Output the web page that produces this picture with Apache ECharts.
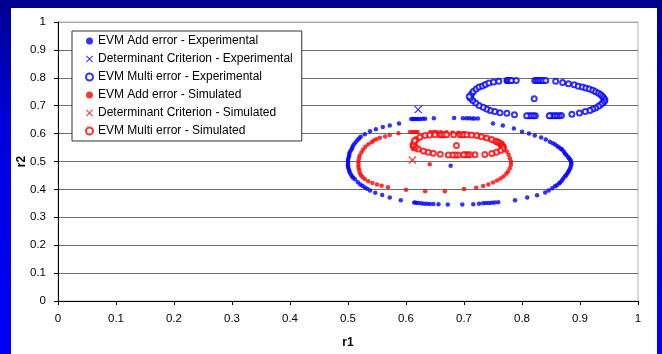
<!DOCTYPE html>
<html>
<head>
<meta charset="utf-8">
<script src="https://cdn.jsdelivr.net/npm/echarts@6/dist/echarts.min.js"></script>
<style>
  html, body { margin: 0; padding: 0; }
  #chart { width: 662px; height: 354px; }
</style>
</head>
<body>
<div id="chart"></div>
<script>
// Axis ticks (r1 horizontal, r2 vertical)
const r1Ticks = [0, 0.1, 0.2, 0.3, 0.4, 0.5, 0.6, 0.7, 0.8, 0.9, 1];
const r2Ticks = [0, 0.1, 0.2, 0.3, 0.4, 0.5, 0.6, 0.7, 0.8, 0.9, 1];

const seriesNames = [
  'EVM Add error - Experimental',
  'Determinant Criterion - Experimental',
  'EVM Multi error - Experimental',
  'EVM Add error - Simulated',
  'Determinant Criterion - Simulated',
  'EVM Multi error - Simulated'
];

// EVM additive-error confidence region, experimental [r1, r2]
const evmAddExp = [
  [0.609,0.652],[0.612,0.652],[0.615,0.652],[0.618,0.652],[0.621,0.652],[0.625,0.652],[0.629,0.653],[0.633,0.653],
  [0.648,0.655],[0.683,0.656],[0.698,0.655],[0.704,0.655],[0.709,0.655],[0.714,0.654],[0.718,0.654],[0.724,0.654],
  [0.750,0.636],[0.767,0.629],[0.786,0.618],[0.800,0.607],[0.812,0.600],[0.822,0.593],[0.833,0.586],[0.841,0.579],
  [0.848,0.571],[0.853,0.565],[0.857,0.561],[0.861,0.555],[0.864,0.550],[0.867,0.546],[0.869,0.543],[0.872,0.536],
  [0.874,0.529],[0.876,0.524],[0.879,0.518],[0.881,0.512],[0.883,0.507],[0.884,0.502],[0.885,0.496],[0.885,0.490],
  [0.884,0.482],[0.883,0.475],[0.881,0.468],[0.880,0.463],[0.878,0.457],[0.876,0.451],[0.874,0.446],[0.871,0.439],
  [0.869,0.432],[0.866,0.426],[0.864,0.421],[0.860,0.415],[0.857,0.411],[0.852,0.404],[0.846,0.396],[0.840,0.389],
  [0.826,0.379],[0.809,0.371],[0.788,0.361],
  [0.759,0.354],[0.753,0.353],[0.748,0.352],[0.743,0.351],[0.738,0.351],[0.733,0.350],[0.726,0.349],[0.716,0.347],
  [0.697,0.346],[0.672,0.346],[0.656,0.347],[0.647,0.348],[0.641,0.348],[0.636,0.349],[0.631,0.349],[0.626,0.350],
  [0.621,0.351],[0.617,0.352],[0.614,0.353],
  [0.591,0.361],[0.572,0.371],[0.559,0.380],[0.547,0.388],[0.538,0.396],[0.533,0.402],[0.529,0.407],[0.525,0.413],
  [0.521,0.418],[0.517,0.426],[0.512,0.436],[0.509,0.442],[0.507,0.446],[0.505,0.453],[0.503,0.461],[0.502,0.468],
  [0.501,0.474],[0.500,0.480],[0.500,0.487],
  [0.500,0.493],[0.500,0.500],[0.500,0.506],[0.501,0.513],[0.502,0.520],[0.502,0.526],[0.503,0.533],[0.505,0.540],
  [0.507,0.547],[0.508,0.554],[0.510,0.561],[0.513,0.568],[0.516,0.576],[0.519,0.582],[0.522,0.589],[0.529,0.598],
  [0.538,0.608],[0.548,0.616],[0.560,0.624],[0.572,0.629],[0.588,0.636],
  [0.677,0.485]
];

// Determinant criterion optimum, experimental
const detExp = [[0.621, 0.686]];

// EVM multiplicative-error confidence region, experimental
const evmMultiExp = [
  [0.713,0.742],[0.716,0.751],[0.721,0.760],[0.726,0.767],[0.732,0.771],[0.737,0.776],[0.743,0.781],[0.751,0.785],
  [0.760,0.788],[0.774,0.790],[0.775,0.790],[0.777,0.790],[0.780,0.790],[0.782,0.790],[0.790,0.790],
  [0.822,0.790],[0.825,0.790],[0.828,0.790],[0.831,0.790],[0.834,0.790],[0.837,0.790],[0.841,0.790],
  [0.858,0.788],[0.870,0.783],[0.880,0.779],[0.890,0.775],[0.897,0.770],[0.904,0.767],[0.910,0.763],[0.916,0.760],
  [0.922,0.755],[0.927,0.750],[0.932,0.745],[0.936,0.739],[0.939,0.733],[0.941,0.727],[0.943,0.721],[0.942,0.715],
  [0.939,0.710],[0.936,0.704],[0.932,0.698],[0.927,0.692],[0.922,0.688],[0.917,0.683],[0.909,0.679],[0.899,0.674],
  [0.886,0.669],[0.868,0.665],[0.864,0.664],[0.860,0.664],[0.857,0.664],[0.853,0.664],[0.849,0.664],[0.847,0.664],
  [0.823,0.664],[0.820,0.664],[0.816,0.664],[0.812,0.664],[0.808,0.664],
  [0.787,0.668],[0.774,0.673],[0.762,0.675],[0.753,0.679],[0.745,0.683],[0.739,0.688],[0.733,0.694],[0.726,0.701],
  [0.720,0.710],[0.715,0.719],[0.711,0.727],[0.709,0.733],
  [0.821,0.725]
];

// EVM additive-error confidence region, simulated
const evmAddSim = [
  [0.607,0.606],[0.612,0.606],[0.616,0.606],[0.620,0.606],[0.642,0.606],[0.648,0.606],[0.653,0.606],[0.660,0.605],
  [0.670,0.605],[0.680,0.604],[0.690,0.603],[0.700,0.601],[0.710,0.598],[0.720,0.594],[0.728,0.590],[0.736,0.585],
  [0.743,0.580],[0.750,0.573],[0.757,0.565],[0.763,0.557],[0.769,0.547],[0.774,0.536],[0.777,0.524],[0.779,0.512],
  [0.781,0.500],[0.781,0.488],[0.779,0.476],[0.776,0.464],[0.773,0.456],[0.768,0.446],[0.763,0.439],[0.757,0.432],
  [0.750,0.425],[0.742,0.418],[0.733,0.412],[0.721,0.406],[0.700,0.401],[0.667,0.393],[0.633,0.393],[0.600,0.399],
  [0.569,0.408],[0.558,0.413],[0.550,0.418],[0.542,0.423],[0.535,0.429],[0.529,0.437],[0.525,0.444],[0.522,0.452],
  [0.520,0.461],[0.519,0.471],[0.518,0.480],[0.518,0.490],[0.518,0.500],[0.519,0.511],[0.520,0.521],[0.523,0.532],
  [0.526,0.543],[0.530,0.553],[0.535,0.562],[0.541,0.569],[0.544,0.575],[0.549,0.580],[0.555,0.585],[0.564,0.590],
  [0.572,0.595],[0.587,0.601],
  [0.641,0.490]
];

// Determinant criterion optimum, simulated
const detSim = [[0.611, 0.505]];

// EVM multiplicative-error confidence region, simulated
const evmMultiSim = [
  [0.618,0.579],[0.624,0.587],[0.633,0.593],[0.641,0.595],[0.650,0.596],[0.659,0.596],[0.662,0.596],[0.666,0.596],
  [0.670,0.596],[0.682,0.596],[0.693,0.596],[0.697,0.596],[0.700,0.596],[0.705,0.596],[0.713,0.595],[0.722,0.593],
  [0.730,0.589],[0.739,0.584],[0.748,0.579],[0.755,0.573],[0.758,0.570],[0.761,0.567],[0.764,0.563],[0.765,0.560],
  [0.766,0.556],[0.768,0.552],[0.767,0.549],[0.767,0.545],[0.763,0.539],[0.756,0.533],[0.748,0.529],[0.736,0.525],
  [0.719,0.524],[0.710,0.524],[0.706,0.524],[0.702,0.524],[0.699,0.524],[0.690,0.523],[0.685,0.523],[0.680,0.523],
  [0.673,0.523],[0.659,0.526],[0.647,0.530],[0.638,0.533],[0.630,0.538],[0.621,0.545],[0.614,0.548],[0.616,0.552],
  [0.612,0.557],[0.613,0.561],[0.614,0.569],[0.615,0.575],
  [0.687,0.557]
];

const BLUE = '#0000ff';
const RED = '#ff0000';
const CROSS = 'path://M0,1L1,0L5,4L9,0L10,1L6,5L10,9L9,10L5,6L1,10L0,9L4,5Z';
const FONT = 'Liberation Sans, Arial, sans-serif';

const chart = echarts.init(document.getElementById('chart'), null, { renderer: 'canvas' });

function dots(name, data, color) {
  return { name, type: 'scatter', data, symbol: 'circle', symbolSize: 4.5,
    itemStyle: { color }, emphasis: { disabled: true } };
}
function rings(name, data, color) {
  return { name, type: 'scatter', data, symbol: 'emptyCircle', symbolSize: 5,
    itemStyle: { color, borderColor: color, borderWidth: 0.9 }, emphasis: { disabled: true } };
}
function crosses(name, data, color) {
  return { name, type: 'scatter', data, symbol: CROSS, symbolSize: 8,
    itemStyle: { color }, emphasis: { disabled: true } };
}

const gridColors = r2Ticks.map((v, i) => (i === r2Ticks.length - 1 ? '#a8a8a8' : '#6e6e6e'));

chart.setOption({
  animation: false,
  backgroundColor: {
    type: 'linear', x: 0, y: 0, x2: 0, y2: 1,
    colorStops: [
      { offset: 0, color: '#000090' },
      { offset: 0.35, color: '#0000dc' },
      { offset: 1, color: '#0000f8' }
    ]
  },
  graphic: [{
    type: 'rect', z: -100, silent: true,
    shape: { x: 11, y: 8, width: 646, height: 346 },
    style: { fill: '#ffffff' }
  }],
  grid: {
    left: 58, right: 24, top: 22, bottom: 52,
    show: true, borderColor: '#b4b4b4', borderWidth: 1, backgroundColor: 'transparent'
  },
  legend: {
    orient: 'vertical', left: 72, top: 31,
    padding: [3, 9, 3, 13],
    itemGap: 4, itemWidth: 7, itemHeight: 7,
    backgroundColor: '#ffffff', borderColor: '#333333', borderWidth: 1,
    textStyle: { fontFamily: FONT, fontSize: 12, color: '#000', lineHeight: 14 },
    data: seriesNames,
    selectedMode: false
  },
  xAxis: {
    type: 'value', min: r1Ticks[0], max: r1Ticks[r1Ticks.length - 1], interval: 0.1,
    name: 'r1', nameLocation: 'middle', nameGap: 36, nameMoveOverlap: false,
    nameTextStyle: { fontFamily: FONT, fontSize: 12, fontWeight: 'bold', color: '#000' },
    axisLine: { show: true, onZero: false, lineStyle: { color: '#000', width: 1 } },
    axisTick: { show: true, length: 4, lineStyle: { color: '#000' } },
    axisLabel: { margin: 12, fontFamily: FONT, fontSize: 11.5, color: '#000',
      formatter: v => String(Math.round(v * 10) / 10) },
    splitLine: { show: false }
  },
  yAxis: {
    type: 'value', min: r2Ticks[0], max: r2Ticks[r2Ticks.length - 1], interval: 0.1,
    name: 'r2', nameLocation: 'middle', nameGap: 30, nameMoveOverlap: false,
    nameTextStyle: { fontFamily: FONT, fontSize: 12, fontWeight: 'bold', color: '#000' },
    axisLine: { show: true, onZero: false, lineStyle: { color: '#000', width: 1 } },
    axisTick: { show: true, length: 4, lineStyle: { color: '#000' } },
    axisLabel: { margin: 12, fontFamily: FONT, fontSize: 11.5, color: '#000',
      formatter: v => String(Math.round(v * 10) / 10) },
    splitLine: { show: true, lineStyle: { color: gridColors, width: 1 } }
  },
  series: [
    dots(seriesNames[0], evmAddExp, BLUE),
    crosses(seriesNames[1], detExp, BLUE),
    rings(seriesNames[2], evmMultiExp, BLUE),
    dots(seriesNames[3], evmAddSim, RED),
    crosses(seriesNames[4], detSim, RED),
    rings(seriesNames[5], evmMultiSim, RED)
  ]
});
</script>
</body>
</html>
